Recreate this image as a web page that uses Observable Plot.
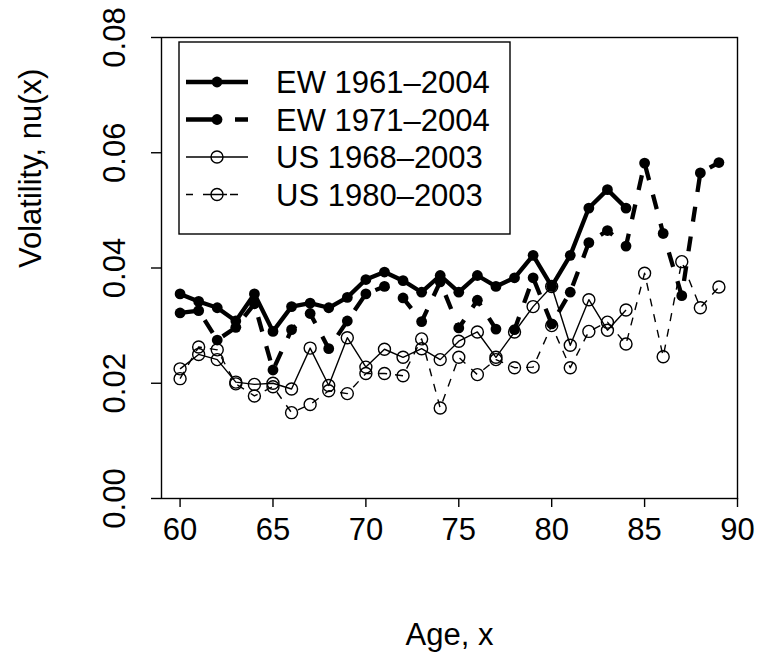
<!DOCTYPE html>
<html>
<head>
<meta charset="utf-8">
<script src="https://cdn.jsdelivr.net/npm/d3@7"></script>
<script src="https://cdn.jsdelivr.net/npm/@observablehq/plot@0.6"></script>
<style>
  html, body { margin: 0; padding: 0; background: #fff; }
  #chart { width: 757px; height: 655px; }
</style>
</head>
<body>
<div id="chart"></div>
<script>
const agesEW1961 = d3.range(60, 85);
const agesEW1971 = d3.range(60, 90);
const agesUS1968 = d3.range(60, 85);
const agesUS1980 = d3.range(60, 90);

const ew1961 = [0.0355,0.0342,0.0331,0.0308,0.0355,0.0290,0.0333,0.0339,0.0331,0.0349,
                0.0380,0.0393,0.0378,0.0358,0.0387,0.0358,0.0387,0.0368,0.0383,0.0422,
                0.0368,0.0422,0.0504,0.0536,0.0504];
const ew1971 = [0.0322,0.0326,0.0275,0.0297,0.0338,0.0223,0.0293,0.0321,0.0260,0.0308,
                0.0355,0.0368,0.0348,0.0307,0.0376,0.0296,0.0344,0.0294,0.0293,0.0383,
                0.0303,0.0358,0.0444,0.0465,0.0438,0.0582,0.0460,0.0352,0.0565,0.0583];
const us1968 = [0.0225,0.0250,0.0241,0.0202,0.0198,0.0200,0.0190,0.0261,0.0196,0.0279,
                0.0228,0.0259,0.0245,0.0260,0.0241,0.0273,0.0289,0.0245,0.0289,0.0333,
                0.0368,0.0266,0.0345,0.0292,0.0327];
const us1980 = [0.0208,0.0263,0.0258,0.0199,0.0178,0.0194,0.0149,0.0163,0.0187,0.0182,
                0.0217,0.0217,0.0213,0.0277,0.0157,0.0245,0.0215,0.0241,0.0227,0.0228,
                0.0300,0.0227,0.0290,0.0306,0.0268,0.0391,0.0246,0.0411,0.0331,0.0367];

const seriesNames = ["EW 1961\u20132004", "EW 1971\u20132004", "US 1968\u20132003", "US 1980\u20132003"];
const xTicks = [60, 65, 70, 75, 80, 85, 90];
const yTicks = [0.00, 0.02, 0.04, 0.06, 0.08];
const xTitle = "Age, x";
const yTitle = "Volatility, nu(x)";

const FONT = "'Liberation Sans', Arial, Helvetica, sans-serif";
const FS = 31;
const THICK = 4.3, THIN = 1.4;
const R_FILLED = 5.4, R_OPEN = 6;
const styles = [
  {width: THICK, dash: null, filled: true, legendDash: null},
  {width: THICK, dash: "15,15", filled: true, legendDash: "27,22,13,40"},
  {width: THIN, dash: null, filled: false, legendDash: null},
  {width: THIN, dash: "8,8", filled: false, legendDash: "7,10,24,3,8,40"}
];

const toRows = (ages, vals) => ages.map((a, i) => ({age: a, v: vals[i]}));
const series = [
  toRows(agesEW1961, ew1961),
  toRows(agesEW1971, ew1971),
  toRows(agesUS1968, us1968),
  toRows(agesUS1980, us1980)
];

const marks = [];
series.forEach((rows, i) => {
  const s = styles[i];
  marks.push(Plot.line(rows, {x: "age", y: "v", stroke: "black", strokeWidth: s.width,
    strokeDasharray: s.dash || undefined, strokeLinejoin: "round", strokeLinecap: "butt"}));
  if (s.filled) {
    marks.push(Plot.dot(rows, {x: "age", y: "v", r: R_FILLED, fill: "black", stroke: "none"}));
  } else {
    marks.push(Plot.dot(rows, {x: "age", y: "v", r: R_OPEN, fill: "none", stroke: "black", strokeWidth: 1.4}));
  }
});

const chart = Plot.plot({
  width: 757,
  height: 655,
  marginLeft: 161,
  marginRight: 20,
  marginTop: 37,
  marginBottom: 157,
  style: {fontFamily: FONT, fontSize: FS + "px", background: "white", color: "black"},
  x: {domain: [59, 90]},
  y: {domain: [0, 0.08]},
  marks: [
    Plot.frame({stroke: "black", strokeWidth: 1.4}),
    Plot.axisX({ticks: xTicks, tickSize: 9, tickPadding: 10, tickFormat: d => String(d),
      fontSize: FS, strokeWidth: 1.4, label: null}),
    Plot.axisY({ticks: yTicks, tickSize: 10, tickFormat: () => "", strokeWidth: 1.4, label: null}),
    Plot.text(yTicks, {y: d => d, text: d => d3.format(".2f")(d), frameAnchor: "left",
      dx: -46, rotate: -90, fontSize: FS, textAnchor: "middle", lineAnchor: "middle"}),
    Plot.text([xTitle], {frameAnchor: "bottom", dy: 137, text: d => d, fontSize: FS, lineAnchor: "middle"}),
    Plot.text([yTitle], {frameAnchor: "left", dx: -130, rotate: -90, text: d => d, fontSize: FS, lineAnchor: "middle"}),
    ...marks
  ]
});

document.getElementById("chart").appendChild(chart);

// Legend (inside plot region, top-left)
const svg = d3.select(chart);
const lg = svg.append("g").attr("font-family", FONT).attr("font-size", FS)
  .attr("text-anchor", "start");
lg.append("rect").attr("x", 179).attr("y", 42).attr("width", 331).attr("height", 192)
  .attr("fill", "white").attr("stroke", "black").attr("stroke-width", 1.4);
const rowY = [82, 119.5, 157, 194.5];
seriesNames.forEach((name, i) => {
  const s = styles[i];
  const y = rowY[i];
  lg.append("line").attr("x1", 186).attr("x2", 248).attr("y1", y).attr("y2", y)
    .attr("stroke", "black").attr("stroke-width", s.width)
    .attr("stroke-dasharray", s.legendDash);
  if (s.filled) {
    lg.append("circle").attr("cx", 217).attr("cy", y).attr("r", R_FILLED).attr("fill", "black");
  } else {
    lg.append("circle").attr("cx", 217).attr("cy", y).attr("r", R_OPEN).attr("fill", "none")
      .attr("stroke", "black").attr("stroke-width", 1.4);
  }
  lg.append("text").attr("x", 276).attr("y", y).attr("dy", "0.36em")
    .attr("text-anchor", "start").text(name);
});
</script>
</body>
</html>
